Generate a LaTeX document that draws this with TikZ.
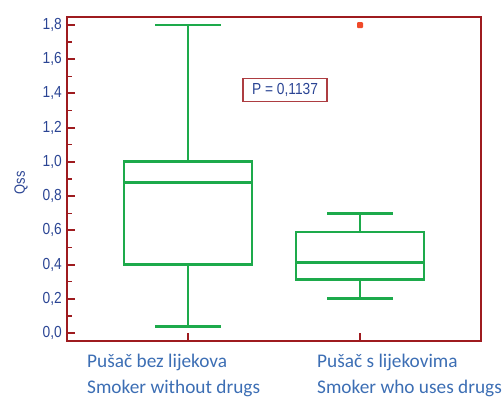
\documentclass[tikz,border=0pt]{standalone}
\usepackage{fontspec}
\setmainfont{Liberation Sans}
\newfontfamily\catfont{Carlito}
\definecolor{frame}{HTML}{9E1B1F}
\definecolor{boxg}{HTML}{1DAA4B}
\definecolor{lab}{HTML}{2B4594}
\definecolor{cat}{HTML}{3C6EB4}
\definecolor{outl}{HTML}{F04A2A}
\newcommand{\narrow}[1]{\scalebox{0.86}[1]{#1}}
\begin{document}
\begin{tikzpicture}[x=1pt,y=1pt,
  frameline/.style={draw=frame,line width=2.8pt},
  tickline/.style={draw=frame,line width=2pt},
  gline/.style={draw=boxg,line width=2.8pt},
  ylab/.style={text=lab,font=\fontsize{16}{18}\selectfont,anchor=east,inner sep=0pt},
  catlab/.style={text=cat,font=\catfont\fontsize{19.3}{25}\selectfont,anchor=base west,inner sep=0pt}]
\useasboundingbox (0,0) rectangle (503,-398);
\begin{scope}[y=171.1pt,yshift=-333pt]
% frame
\draw[frameline] (67,1.847) coordinate (tl) rectangle (481,-0.047) coordinate (br);
% y ticks
\foreach \v/\t in {0/{0,0},0.2/{0,2},0.4/{0,4},0.6/{0,6},0.8/{0,8},1.0/{1,0},1.2/{1,2},1.4/{1,4},1.6/{1,6},1.8/{1,8}}{
  \draw[tickline] (67,\v) -- (75,\v);
  \node[ylab] (yl\v) at (62,\v) {\narrow{\t}};
}
\foreach \v in {0.1,0.3,0.5,0.7,0.9,1.1,1.3,1.5,1.7}{
  \draw[draw=frame,line width=1.3pt] (67,\v) -- (72,\v);
}
% x ticks
\draw[tickline] (188,-0.047) -- (188,0.0);
\draw[tickline] (360,-0.047) -- (360,0.0);
% box 1
\draw[gline] (124,0.40) rectangle (252,1.0);
\draw[gline] (124,0.88) -- (252,0.88);
\draw[gline] (188,1.0) -- (188,1.8);
\draw[gline] (188,0.40) -- (188,0.04);
\draw[gline] (155,1.8) -- (221,1.8);
\draw[gline] (155,0.04) -- (221,0.04);
% box 2
\draw[gline] (296,0.315) rectangle (424,0.59);
\draw[gline] (296,0.41) -- (424,0.41);
\draw[gline] (360,0.59) -- (360,0.70);
\draw[gline] (360,0.315) -- (360,0.20);
\draw[gline] (327,0.70) -- (393,0.70);
\draw[gline] (327,0.20) -- (393,0.20);
% outlier
\fill[outl,rounded corners=1pt] (360,1.8) ++(-3pt,-3pt) rectangle ++(6pt,6pt);
% P box
\node[draw=frame!85,line width=1.2pt,text=lab,minimum width=84pt,minimum height=23pt,inner sep=0pt,font=\fontsize{16}{18}\selectfont] (pbox) at (285,1.42) {\narrow{P = 0,1137}};
% y label
\node[text=lab,rotate=90,font=\fontsize{15}{17}\selectfont,inner sep=0pt] (qss) at (21,0.877) {\narrow{Qss}};
\end{scope}
% categories
\node[catlab] (c1a) at (87,-367) {Pušač bez lijekova};
\node[catlab] (c1b) at (87,-393) {Smoker without drugs};
\node[catlab] (c2a) at (317,-367) {Pušač s lijekovima};
\node[catlab] (c2b) at (317,-393) {Smoker who uses drugs};
\end{tikzpicture}
\end{document}
